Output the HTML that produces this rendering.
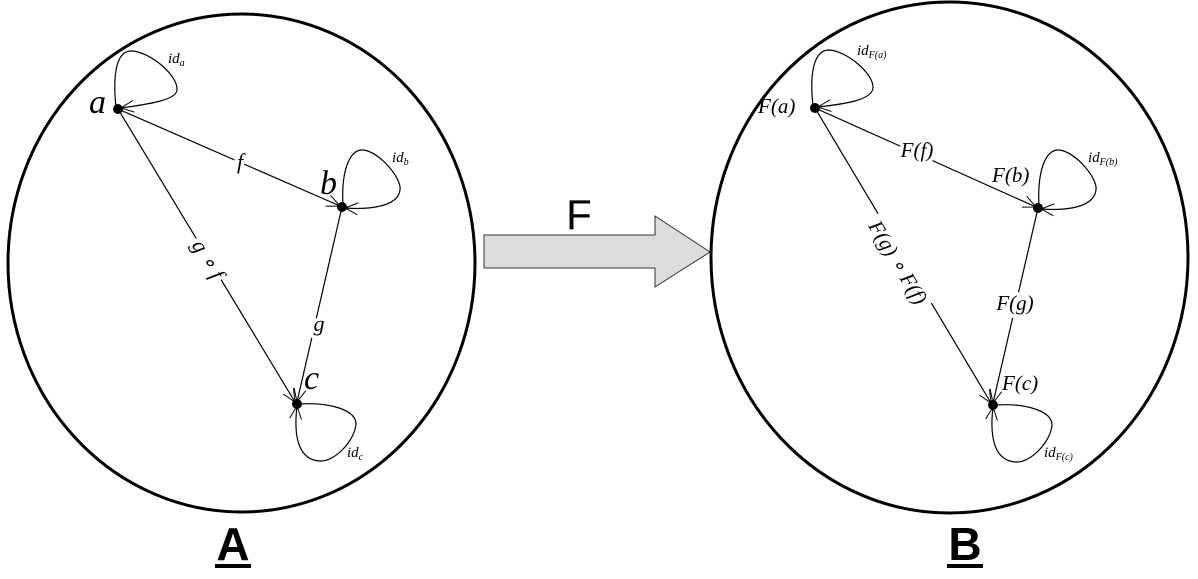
<!DOCTYPE html>
<html><head><meta charset="utf-8"><style>
html,body{margin:0;padding:0;background:#fff;}
svg{display:block;}
.m{font-family:"Liberation Serif",serif;font-style:italic;fill:#000;}
.lb{paint-order:stroke;stroke:#fff;stroke-width:7px;stroke-linejoin:round;}
.s{font-family:"Liberation Sans",sans-serif;font-weight:bold;}
</style></head><body>
<svg width="1198" height="579" viewBox="0 0 1198 579" xmlns="http://www.w3.org/2000/svg">
<defs>
<marker id="ar" viewBox="0 0 14 14" refX="13" refY="7" markerWidth="14" markerHeight="14" markerUnits="userSpaceOnUse" orient="auto">
<path d="M0,1 L13,7 L0,13" fill="none" stroke="#000" stroke-width="1"/>
</marker>
</defs>
<!-- Left -->
<ellipse cx="241.5" cy="263" rx="233.5" ry="249" fill="none" stroke="#000" stroke-width="3"/>
<g fill="none" stroke="#000" stroke-width="1.2">
<line x1="118" y1="109" x2="340" y2="206" marker-end="url(#ar)"/>
<line x1="118" y1="109" x2="295" y2="402" marker-end="url(#ar)"/>
<line x1="342" y1="207" x2="297" y2="402" marker-end="url(#ar)"/>
<path d="M116,107 C112,70 118,50 132,51 C150,52 178,75 177,90 C176,100 150,104 121,108" marker-end="url(#ar)"/>
<path d="M343,205 C341,170 350,150 362,150 C378,150 402,178 400,190 C398,205 375,210 345,208" marker-end="url(#ar)"/>
<path d="M299,404 C330,402 356,410 356,424 C355,440 335,462 320,461 C300,460 293,440 297,406" marker-end="url(#ar)"/>
</g>
<circle cx="118" cy="109" r="5" fill="#000"/>
<circle cx="342" cy="207" r="5" fill="#000"/>
<circle cx="297" cy="404" r="5" fill="#000"/>
<text class="m" x="89" y="113" font-size="34">a</text>
<text class="m" x="320" y="194" font-size="34">b</text>
<text class="m" x="304" y="389" font-size="34">c</text>
<text class="m" x="168" y="63" font-size="15">id<tspan font-size="10" dy="3">a</tspan></text>
<text class="m" x="392" y="162" font-size="15">id<tspan font-size="10" dy="3">b</tspan></text>
<text class="m" x="347" y="457" font-size="15">id<tspan font-size="10" dy="3">c</tspan></text>
<text class="m lb" x="240" y="169" font-size="22" text-anchor="middle">f</text>
<text class="m lb" x="319" y="331" font-size="22" text-anchor="middle">g</text>
<g transform="translate(202,263) rotate(59)">
<rect x="-24" y="-16" width="48" height="22" fill="#fff"/>
<text class="m" x="0" y="0" font-size="22" text-anchor="middle">g ∘ f</text>
</g>
<!-- Arrow -->
<path d="M484,235 L655,235 L655,216 L710,252 L655,287 L655,268 L484,268 Z" fill="#dcdcdc" stroke="#333" stroke-width="1"/>
<text x="579" y="229" font-size="42" font-family="Liberation Sans,sans-serif" text-anchor="middle">F</text>
<!-- Right -->
<ellipse cx="949.5" cy="257.5" rx="238.5" ry="255.5" fill="none" stroke="#000" stroke-width="3"/>
<g fill="none" stroke="#000" stroke-width="1.2">
<line x1="815" y1="108" x2="1036" y2="207" marker-end="url(#ar)"/>
<line x1="815" y1="108" x2="991" y2="403" marker-end="url(#ar)"/>
<line x1="1038" y1="208" x2="993" y2="403" marker-end="url(#ar)"/>
<path d="M813,106 C809,70 815,50 829,50 C847,51 874,74 873,88 C872,100 845,104 818,107" marker-end="url(#ar)"/>
<path d="M1039,206 C1037,170 1046,150 1058,150 C1074,150 1098,178 1096,190 C1094,206 1071,211 1041,209" marker-end="url(#ar)"/>
<path d="M995,405 C1026,403 1052,411 1052,425 C1051,441 1031,463 1016,462 C996,461 989,441 993,407" marker-end="url(#ar)"/>
</g>
<circle cx="815" cy="108" r="5" fill="#000"/>
<circle cx="1038" cy="208" r="5" fill="#000"/>
<circle cx="993" cy="405" r="5" fill="#000"/>
<text class="m" x="758" y="113" font-size="21">F(a)</text>
<text class="m" x="992" y="182" font-size="21">F(b)</text>
<text class="m" x="1002" y="390" font-size="21">F(c)</text>
<text class="m" x="857" y="55" font-size="15">id<tspan font-size="10" dy="3">F(a)</tspan></text>
<text class="m" x="1088" y="162" font-size="15">id<tspan font-size="10" dy="3">F(b)</tspan></text>
<text class="m" x="1044" y="457" font-size="15">id<tspan font-size="10" dy="3">F(c)</tspan></text>
<text class="m lb" x="917" y="157" font-size="21" text-anchor="middle">F(f)</text>
<text class="m lb" x="1015" y="310" font-size="21" text-anchor="middle">F(g)</text>
<g transform="translate(892,266) rotate(59)">
<rect x="-52" y="-16" width="104" height="22" fill="#fff"/>
<text class="m" x="0" y="0" font-size="21" text-anchor="middle">F(g) ∘ F(f)</text>
</g>
<!-- Labels -->
<text class="s" x="233" y="560" font-size="46" text-anchor="middle">A</text>
<rect x="215" y="564" width="36" height="4" fill="#000"/>
<text class="s" x="965" y="560" font-size="46" text-anchor="middle">B</text>
<rect x="947" y="564" width="36" height="4" fill="#000"/>
</svg>
</body></html>
